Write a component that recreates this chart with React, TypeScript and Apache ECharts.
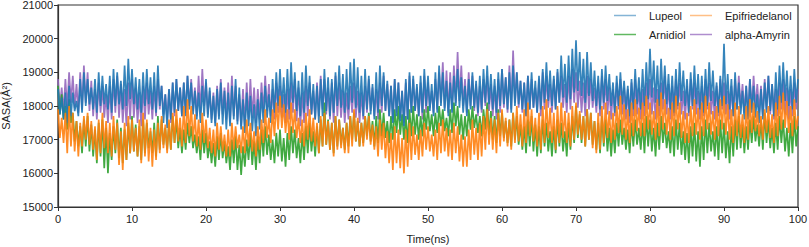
import React, { useEffect, useRef } from "react";
import * as echarts from "echarts";

// sample spacing (ns) of the values below: excursions of each trace
const TIME_STEP = 0.25;
const X_TICKS = [0, 10, 20, 30, 40, 50, 60, 70, 80, 90, 100];
const Y_TICKS = [15000, 16000, 17000, 18000, 19000, 20000, 21000];

const lupeol = [
  18500,17750,18250,17600, 18400,17500,18600,17700, 18400,17850,18150,17700, 18800,17800,19000,18000,
  18800,18050,18550,17900, 18800,17800,19000,18000, 18900,18050,18650,17900, 18900,17800,19100,18000,
  19000,18050,18750,17900, 19200,18000,19400,18200, 19100,18050,18850,17900, 18800,17800,19000,18000,
  19100,18050,18850,17900, 19000,17800,19200,18000, 18600,17500,18350,17350, 18500,17600,18700,17800,
  18800,17850,18550,17700, 18700,17700,18900,17900, 18700,17750,18450,17600, 18400,17500,18600,17700,
  18800,17650,18550,17500, 18300,17400,18500,17600, 18700,17450,18450,17300, 18400,17400,18600,17600,
  18800,17450,18550,17300, 18200,17200,18400,17400, 18300,17250,18050,17100, 18200,17300,18400,17500,
  18600,17650,18350,17500, 18800,17800,19000,18000, 19100,17950,18850,17800, 19100,17900,19300,18100,
  19000,17850,18750,17700, 19000,17800,19200,18000, 18900,17750,18650,17600, 18600,17500,18800,17700,
  19100,17850,18850,17700, 18800,17800,19000,18000, 19200,17950,18950,17800, 19100,17900,19300,18100,
  19400,17950,19150,17800, 18900,17700,19100,17900, 18900,17750,18650,17600, 19000,17800,19200,18000,
  19000,17850,18750,17700, 18600,17500,18800,17700, 18700,17550,18450,17400, 18800,17600,19000,17800,
  18900,17850,18650,17700, 18900,17800,19100,18000, 18900,17850,18650,17700, 19000,17800,19200,18000,
  19000,17850,18750,17700, 18700,17800,18900,18000, 19100,17950,18850,17800, 18600,17700,18800,17900,
  19000,17950,18750,17800, 18900,17900,19100,18100, 19200,18050,18950,17900, 18800,17800,19000,18000,
  19100,18050,18850,17900, 19000,17800,19200,18000, 19000,18050,18750,17900, 18700,17700,18900,17900,
  19000,17950,18750,17800, 18900,17900,19100,18100, 19300,18150,19050,18000, 18900,17900,19100,18100,
  19500,18250,19250,18100, 19500,18200,19700,18400, 19950,18450,19600,18300, 19400,18100,19600,18300,
  19300,18150,19050,18000, 18900,17900,19100,18100, 19200,18150,18950,18000, 18700,17800,18900,18000,
  19000,18050,18750,17900, 18600,17700,18800,17900, 19100,18050,18850,17900, 19100,18000,19300,18200,
  19700,18250,19350,18100, 19200,18000,19400,18200, 19200,18050,18950,17900, 18900,17800,19100,18000,
  19300,18150,19050,18000, 18800,17800,19000,18000, 19200,18050,18950,17900, 18900,17800,19100,18000,
  19300,18150,19050,18000, 18700,17800,18900,18000, 19850,18050,18950,17900, 18800,17700,19000,17900,
  18700,17750,18450,17600, 18600,17600,18800,17800, 18600,17650,18350,17500, 18500,17600,18700,17800,
  18900,17850,18650,17700, 19000,17900,19200,18100, 19300,18150,19050,18000, 18900,17900,19100,18100,
  18800,
];

const epifriedelanol = [
  17900,17050,17650,16900, 17800,16600,18000,16800, 17800,16650,17550,16500, 17500,16800,17700,17000,
  17800,16850,17550,16700, 17400,16400,17600,16600, 17800,16750,17550,16600, 17500,16500,17700,16700,
  17500,16250,17250,16100, 17500,16400,17700,16600, 17600,16650,17350,16500, 17600,16300,17800,16500,
  17600,16350,17350,16200, 17300,16400,17500,16600, 17700,16750,17450,16600, 17600,16700,17800,16900,
  17900,16950,17650,16800, 18000,16900,18200,17100, 18000,16950,17750,16800, 17600,16700,17800,16900,
  17600,16750,17350,16600, 17300,16500,17500,16700, 17400,16650,17150,16500, 17300,16500,17500,16700,
  17400,16750,17150,16600, 17400,16600,17600,16800, 17500,16650,17250,16500, 17400,16700,17600,16900,
  17900,17050,17650,16900, 17900,17100,18100,17300, 18300,17350,18050,17200, 17900,17000,18100,17200,
  17900,17050,17650,16900, 17600,16800,17800,17000, 17900,16950,17650,16800, 17500,16600,17700,16800,
  17800,16850,17550,16700, 17500,16500,17700,16700, 17600,16750,17350,16600, 17500,16600,17700,16800,
  17900,16950,17650,16800, 17500,16800,17700,17000, 17700,16850,17450,16700, 17400,16500,17600,16700,
  17500,16450,17250,16300, 17200,16100,17400,16300, 17300,16150,17050,16000, 17300,16200,17500,16400,
  17400,16550,17150,16400, 17300,16500,17500,16700, 17400,16650,17150,16500, 17300,16400,17500,16600,
  17600,16650,17350,16500, 17300,16400,17500,16600, 17400,16350,17150,16200, 17100,16200,17300,16400,
  17600,16550,17350,16400, 17500,16500,17700,16700, 17900,16850,17650,16700, 17600,16600,17800,16800,
  17900,16950,17650,16800, 17600,16700,17800,16900, 18000,16950,17750,16800, 17900,16900,18100,17100,
  17900,16950,17650,16800, 17800,16700,18000,16900, 18200,17050,17950,16900, 17800,16700,18000,16900,
  18100,17050,17850,16900, 17800,16800,18000,17000, 18100,17150,17850,17000, 17700,16800,17900,17000,
  17800,16750,17550,16600, 17800,16700,18000,16900, 18100,17050,17850,16900, 17800,17000,18000,17200,
  18300,17150,18050,17000, 17900,16900,18100,17100, 18200,17250,17950,17100, 18100,17100,18300,17300,
  18100,17150,17850,17000, 18200,17100,18400,17300, 18200,17150,17950,17000, 18100,17100,18300,17300,
  18100,17050,17850,16900, 17800,16900,18000,17100, 18200,17150,17950,17000, 18100,17100,18300,17300,
  18100,17150,17850,17000, 18000,17100,18200,17300, 18300,17150,18050,17000, 17900,16900,18100,17100,
  18000,17050,17750,16900, 18000,17000,18200,17200, 18100,17250,17850,17100, 17700,17000,17900,17200,
  18000,17050,17750,16900, 18100,17100,18300,17300, 18400,17350,18150,17200, 18000,17100,18200,17300,
  17700,
];

const arnidiol = [
  18600,17750,18350,17600, 18000,17300,18200,17500, 17800,16950,17550,16800, 17400,16600,17600,16800,
  17700,16650,17450,16500, 17300,16300,17500,16500, 17600,16150,17350,16000, 17200,16400,17400,16600,
  17600,16450,17350,16300, 17300,16400,17500,16600, 17700,16650,17450,16500, 17400,16400,17600,16600,
  17500,16750,17250,16600, 17500,16500,17700,16700, 17600,16850,17350,16700, 17500,16700,17700,16900,
  17600,16750,17350,16600, 17300,16700,17500,16900, 17400,16750,17150,16600, 17100,16400,17300,16600,
  17200,16450,16950,16300, 16900,16200,17100,16400, 17200,16450,16950,16300, 16800,16100,17000,16300,
  17100,16100,16850,15950, 16800,16200,17000,16400, 17200,16250,16950,16100, 17100,16300,17300,16500,
  17400,16550,17150,16400, 17000,16300,17200,16500, 17300,16350,17050,16200, 17200,16400,17400,16600,
  17300,16450,17050,16300, 17200,16400,17400,16600, 17500,16650,17250,16500, 17400,16600,17600,16800,
  18100,16850,17600,16700, 17500,16600,17700,16800, 17600,16850,17350,16700, 17500,16800,17700,17000,
  17800,16950,17550,16800, 17500,16900,17700,17100, 17800,16950,17550,16800, 17700,16900,17900,17100,
  17800,17050,17550,16900, 17700,17000,17900,17200, 18000,17150,17750,17000, 17700,16900,17900,17100,
  18000,17150,17750,17000, 17700,17100,17900,17300, 18000,17250,17750,17100, 17800,17200,18000,17400,
  17900,17250,17650,17100, 17900,17200,18100,17400, 18000,17150,17750,17000, 17700,17100,17900,17300,
  18000,17350,17750,17200, 17700,17100,17900,17300, 18100,17150,17850,17000, 17700,16900,17900,17100,
  17800,17050,17550,16900, 17600,16800,17800,17000, 17700,16850,17450,16700, 17400,16600,17600,16800,
  17700,16650,17450,16500, 17400,16600,17600,16800, 17500,16650,17250,16500, 17400,16600,17600,16800,
  17500,16650,17250,16500, 17500,16700,17700,16900, 18000,17050,17750,16900, 17700,16800,17900,17000,
  17800,16850,17550,16700, 17500,16600,17700,16800, 17600,16650,17350,16500, 17300,16600,17500,16800,
  17600,16850,17350,16700, 17300,16600,17500,16800, 17600,16850,17350,16700, 17500,16600,17700,16800,
  17600,16650,17350,16500, 17500,16700,17700,16900, 17500,16750,17250,16600, 17400,16500,17600,16700,
  17500,16550,17250,16400, 17200,16300,17400,16500, 17500,16350,17250,16200, 17400,16400,17600,16600,
  17500,16650,17250,16500, 17400,16400,17600,16600, 17500,16450,17250,16300, 17400,16500,17600,16700,
  17700,16750,17450,16600, 17400,16700,17600,16900, 17700,16950,17450,16800, 17600,16700,17800,16900,
  17600,16750,17350,16600, 17500,16700,17700,16900, 17600,16650,17350,16500, 17500,16600,17700,16800,
  17400,
];

const alphaAmyrin = [
  18800,17950,18550,17800, 18800,17900,19000,18100, 18900,17950,18650,17800, 19000,17900,19200,18100,
  19000,17850,18750,17700, 18500,17600,18700,17800, 18600,17650,18350,17500, 18600,17600,18800,17800,
  18900,17650,18650,17500, 18500,17400,18700,17600, 18800,17650,18550,17500, 18400,17400,18600,17600,
  18700,17750,18450,17600, 18600,17700,18800,17900, 18600,17750,18350,17600, 18500,17500,18700,17700,
  18800,17850,18550,17700, 18700,17800,18900,18000, 18800,17850,18550,17700, 18900,17800,19100,18000,
  18700,17750,18450,17600, 18400,17500,18600,17700, 18800,17750,18550,17600, 18700,17500,18900,17700,
  18600,17550,18350,17400, 18500,17400,18700,17600, 18800,17650,18550,17500, 18500,17600,18700,17800,
  18900,17850,18650,17700, 18500,17600,18700,17800, 18600,17650,18350,17500, 18500,17600,18700,17800,
  18800,17550,18550,17400, 18400,17500,18600,17700, 18700,17750,18450,17600, 18700,17700,18900,17900,
  18800,17750,18550,17600, 18700,17500,18900,17700, 18700,17650,18450,17500, 18400,17600,18600,17800,
  18700,17650,18450,17500, 18400,17600,18600,17800, 18800,17850,18550,17700, 18500,17600,18700,17800,
  18900,17850,18650,17700, 18600,17600,18800,17800, 18700,17650,18450,17500, 18700,17600,18900,17800,
  18800,17850,18550,17700, 18700,17600,18900,17800, 18700,17950,18450,17800, 18800,17900,19000,18100,
  19300,17950,19050,17800, 19000,17900,19200,18100, 19600,18150,19200,18000, 18800,17800,19000,18000,
  18900,17850,18650,17700, 18600,17800,18800,18000, 18900,17850,18650,17700, 18600,17600,18800,17800,
  19100,17950,18850,17800, 19200,17900,19650,18100, 19000,17950,18750,17800, 18700,17700,18900,17900,
  18800,17950,18550,17800, 18800,17700,19000,17900, 18900,17950,18650,17800, 18800,17900,19000,18100,
  18900,17950,18650,17800, 18900,17900,19100,18100, 19000,17950,18750,17800, 18700,17700,18900,17900,
  18800,17950,18550,17800, 18700,17700,18900,17900, 18800,17750,18550,17600, 18500,17700,18700,17900,
  18800,17750,18550,17600, 18500,17500,18700,17700, 18800,17750,18550,17600, 18500,17700,18700,17900,
  18800,17750,18550,17600, 18500,17700,18700,17900, 18900,17750,18650,17600, 18600,17700,18800,17900,
  18700,17750,18450,17600, 18600,17700,18800,17900, 18700,17750,18450,17600, 18600,17700,18800,17900,
  18700,17750,18450,17600, 18600,17700,18800,17900, 18700,17750,18450,17600, 18600,17700,18800,17900,
  18900,17950,18650,17800, 18600,17700,18800,17900, 18900,17950,18650,17800, 18600,17700,18800,17900,
  18900,17750,18650,17600, 18500,17700,18700,17900, 18800,17750,18550,17600, 18500,17700,18700,17900,
  18500,
];

const SERIES = [
  { name: "alpha-Amyrin", values: alphaAmyrin, color: "#9467bd", legendColor: "rgba(148,103,189,0.75)" },
  { name: "Arnidiol", values: arnidiol, color: "#2ca02c", legendColor: "rgba(44,160,44,0.75)" },
  { name: "Lupeol", values: lupeol, color: "#1f77b4", legendColor: "rgba(31,119,180,0.55)" },
  { name: "Epifriedelanol", values: epifriedelanol, color: "#ff7f0e", legendColor: "rgba(255,127,14,0.5)" },
];

const FONT = "'Liberation Sans', Arial, sans-serif";

export default function App() {
  const ref = useRef<HTMLDivElement>(null);
  useEffect(() => {
    if (!ref.current) return;
    const chart = echarts.init(ref.current, undefined, { renderer: "svg" });
    const legendPos: Record<string, { left: number; top: number }> = {
      Lupeol: { left: 614, top: 10 },
      Epifriedelanol: { left: 690, top: 10 },
      Arnidiol: { left: 614, top: 29 },
      "alpha-Amyrin": { left: 690, top: 29 },
    };
    const legends = SERIES.map((s) => ({
      show: true,
      left: legendPos[s.name].left,
      top: legendPos[s.name].top,
      padding: 0,
      icon: "rect",
      itemWidth: 22,
      itemHeight: 1.5,
      data: [{ name: s.name, itemStyle: { color: s.legendColor } }],
      textStyle: { fontFamily: FONT, fontSize: 11, color: "#222", padding: [0, 0, 0, 8] },
      selectedMode: false,
    }));
    chart.setOption({
      animation: false,
      backgroundColor: "#fff",
      textStyle: { fontFamily: FONT },
      grid: {
        left: 58,
        right: 11,
        top: 5,
        bottom: 40,
        show: true,
        borderColor: "#333",
        borderWidth: 1.2,
        containLabel: false,
        outerBoundsMode: "none",
      },
      legend: legends,
      xAxis: {
        type: "value",
        min: X_TICKS[0],
        max: X_TICKS[X_TICKS.length - 1],
        interval: 10,
        name: "Time(ns)",
        nameLocation: "middle",
        nameGap: 26,
        nameTextStyle: { fontFamily: FONT, fontSize: 11, color: "#222" },
        axisLine: { show: true, lineStyle: { color: "#333", width: 1.2 } },
        axisTick: { show: true, length: 4, lineStyle: { color: "#333", width: 1 } },
        axisLabel: { fontFamily: FONT, fontSize: 11, color: "#222", margin: 6 },
        splitLine: { show: false },
      },
      yAxis: {
        type: "value",
        min: Y_TICKS[0],
        max: Y_TICKS[Y_TICKS.length - 1],
        interval: 1000,
        name: "SASA(Å²)",
        nameLocation: "middle",
        nameGap: 41,
        nameTextStyle: { fontFamily: FONT, fontSize: 11, color: "#222" },
        axisLine: { show: true, lineStyle: { color: "#333", width: 1.2 } },
        axisTick: { show: true, length: 4, lineStyle: { color: "#333", width: 1 } },
        axisLabel: {
          fontFamily: FONT,
          fontSize: 11,
          color: "#222",
          margin: 5,
          formatter: (v: number) => String(v),
        },
        splitLine: { show: false },
      },
      series: SERIES.map((s, k) => ({
        name: s.name,
        type: "line",
        data: s.values.map((v, i) => [i * TIME_STEP, v]),
        showSymbol: false,
        symbol: "none",
        z: 2 + k,
        lineStyle: { color: s.color, width: 1.7, opacity: 0.9 },
        itemStyle: { color: s.color },
      })),
    });
    return () => chart.dispose();
  }, []);
  return (
    <div
      ref={ref}
      style={{ position: "fixed", left: 0, top: 0, width: 809, height: 247, background: "#fff" }}
    />
  );
}
